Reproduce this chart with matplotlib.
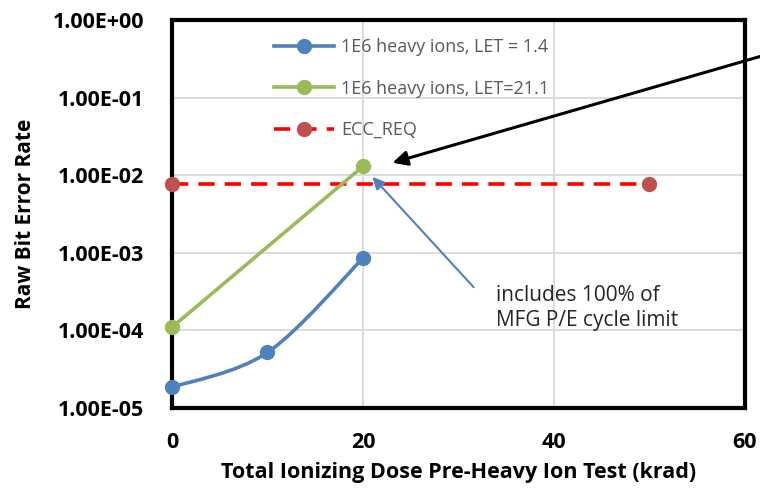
import numpy as np
import matplotlib
matplotlib.use("Agg")
import matplotlib.pyplot as plt
from matplotlib.path import Path
from matplotlib.patches import PathPatch

plt.rcParams['font.family'] = ['Open Sans', 'DejaVu Sans']

# measured raw bit error rates
dose_let14 = [0, 10, 20]
ber_let14 = [1.85e-5, 5.2e-5, 8.5e-4]
dose_let211 = [0, 20]
ber_let211 = [1.1e-4, 1.3e-2]
dose_req = [0, 50]
ber_req = [7.8e-3, 7.8e-3]

x_ticks = [0, 20, 40, 60]
y_ticks = [1e-5, 1e-4, 1e-3, 1e-2, 1e-1, 1e0]
y_labels = ['1.00E-05', '1.00E-04', '1.00E-03', '1.00E-02', '1.00E-01', '1.00E+00']

blue = '#4F81BD'
green = '#9BBB59'
red_pt = '#C0504D'


def smooth_path(xs, ys):
    # Catmull-Rom style bezier in (x, log y) space, like a spreadsheet smoothed line
    p = np.column_stack([xs, np.log10(ys)])
    pts = np.vstack([p[0], p, p[-1]])
    verts = [p[0]]
    codes = [Path.MOVETO]
    for i in range(1, len(pts) - 2):
        c1 = pts[i] + (pts[i + 1] - pts[i - 1]) / 6
        c2 = pts[i + 1] - (pts[i + 2] - pts[i]) / 6
        verts += [c1, c2, pts[i + 1]]
        codes += [Path.CURVE4] * 3
    verts = np.array(verts)
    verts[:, 1] = 10 ** verts[:, 1]
    return Path(verts, codes)


fig = plt.figure(figsize=(7.6, 4.92), dpi=100)
ax = fig.add_axes([0.2263, 0.1707, 0.7537, 0.7886])
ax.set_yscale('log')
ax.set_xlim(0, 60)
ax.set_ylim(1e-5, 1)

ax.add_patch(PathPatch(smooth_path(dose_let14, ber_let14), fill=False,
                       edgecolor=blue, lw=2.6, clip_on=False, zorder=3))
ax.plot(dose_let14, ber_let14, 'o', color=blue, ms=10, clip_on=False, zorder=4)
ax.plot([], [], '-o', color=blue, lw=2.6, ms=10, label='1E6 heavy ions, LET = 1.4')
ax.plot(dose_let211, ber_let211, '-o', color=green, lw=2.6, ms=10,
        clip_on=False, zorder=4, label='1E6 heavy ions, LET=21.1')
ax.plot(dose_req, ber_req, '--', color='#FF0000', lw=2.6, dashes=(4.5, 2.8),
        zorder=3)
ax.plot(dose_req, ber_req, 'o', color=red_pt, ms=10, clip_on=False, zorder=4)
ax.plot([], [], '--o', color='#FF0000', mfc=red_pt, mec=red_pt, lw=2.6,
        dashes=(4.5, 2.8), ms=10, label='ECC_REQ')

ax.set_xticks(x_ticks)
ax.set_yticks(y_ticks)
ax.set_yticklabels(y_labels)
ax.minorticks_off()
ax.tick_params(length=0, labelsize=15.5)
ax.tick_params(axis='y', pad=20)
ax.tick_params(axis='x', pad=17)
for lab in ax.get_xticklabels() + ax.get_yticklabels():
    lab.set_fontweight('bold')
ax.grid(True, color='#D9D9D9', lw=1.3)
ax.set_axisbelow(True)
for s in ax.spines.values():
    s.set_linewidth(3)
    s.set_color('black')

ax.set_xlabel('Total Ionizing Dose Pre-Heavy Ion Test (krad)', fontsize=15.5,
              fontweight='bold', labelpad=7)
ax.set_ylabel('Raw Bit Error Rate', fontsize=15, fontweight='bold', labelpad=12)

leg = ax.legend(loc='upper left', bbox_to_anchor=(0.15, 0.995), frameon=False,
                fontsize=13, labelspacing=1.3, handlelength=3.3,
                handletextpad=0.4, labelcolor='#595959')

# callouts
ax.annotate('', xy=(21.0, 9.5e-3), xytext=(31.6, 3.6e-4),
            arrowprops=dict(arrowstyle='-|>', color=blue, lw=1.5,
                            mutation_scale=18, shrinkA=0, shrinkB=0))
ax.annotate('', xy=(23.1, 1.45e-2), xytext=(63.0, 0.38), annotation_clip=False,
            arrowprops=dict(arrowstyle='-|>', color='black', lw=2.2,
                            mutation_scale=22, shrinkA=0, shrinkB=0))
ax.text(33.9, 1.95e-4, 'includes 100% of\nMFG P/E cycle limit', fontsize=15,
        color='#262626', ha='left', va='center', linespacing=1.25)

fig.savefig('out.png', dpi=100)
